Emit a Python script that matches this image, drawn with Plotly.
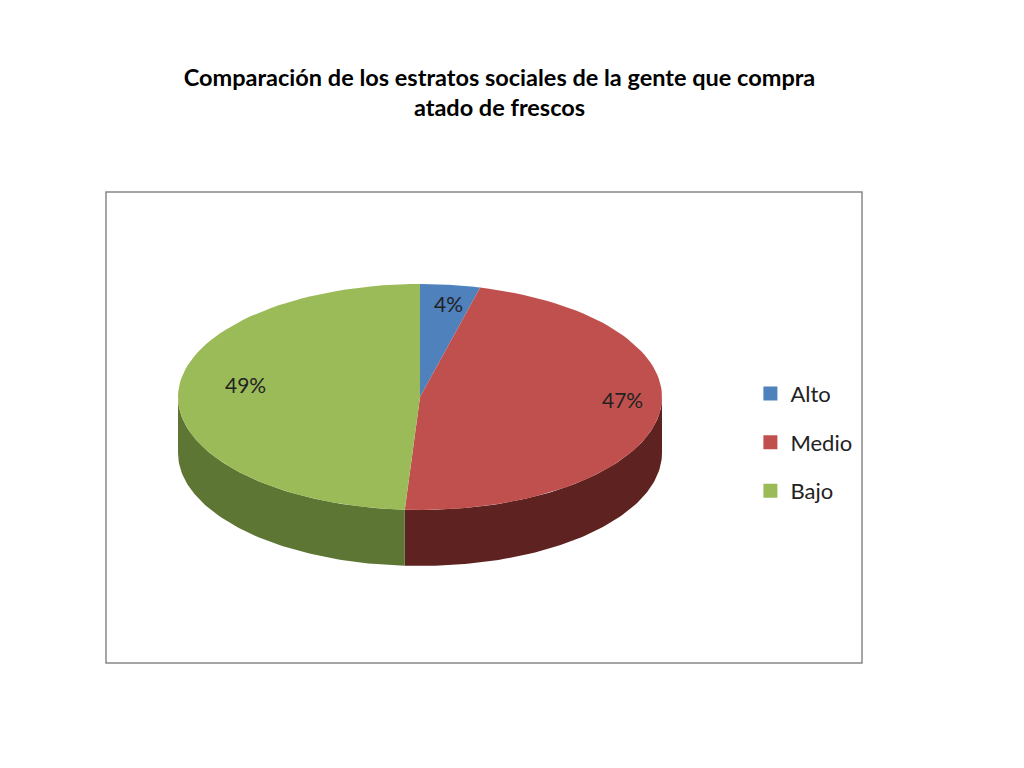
import numpy as np
import plotly.graph_objects as go

labels = ["Alto", "Medio", "Bajo"]
values = [4, 47, 49]
colors = ["#4F81BD", "#C0504D", "#9BBB59"]
side_colors = ["#2f4d72", "#5e2321", "#5d7634"]

# ellipse geometry in page pixels
cx, cy, rx, ry, depth = 420, 397, 242, 113, 56

def arc(t0, t1, dy=0):
    t = np.radians(np.linspace(t0, t1, 80))
    return cx + rx * np.cos(t), cy + dy + ry * np.sin(t)

fig = go.Figure()
total = sum(values)
start = -90.0
angles = []
for v in values:
    end = start + 360.0 * v / total
    angles.append((start, end))
    start = end

# side walls (front half only)
for (a0, a1), sc in zip(angles, side_colors):
    for off in (0, 360, -360):
        s0, s1 = max(a0 + off, 0), min(a1 + off, 180)
        if s1 > s0:
            xt, yt = arc(s0, s1)
            xb, yb = arc(s1, s0, depth)
            fig.add_trace(go.Scatter(x=np.r_[xt, xb], y=np.r_[yt, yb], fill="toself",
                                     fillcolor=sc, line=dict(width=0), mode="lines",
                                     showlegend=False, hoverinfo="skip"))

# top faces
for (a0, a1), lab, c, v in zip(angles, labels, colors, values):
    xa, ya = arc(a0, a1)
    fig.add_trace(go.Scatter(x=np.r_[cx, xa, cx], y=np.r_[cy, ya, cy], fill="toself",
                             fillcolor=c, line=dict(width=0), mode="lines", showlegend=False))
    m = np.radians((a0 + a1) / 2)
    k = 0.72 if v > 10 else 0.95
    fig.add_annotation(x=cx + rx * k * np.cos(m) + (30 if v > 10 and np.cos(m) > 0 else 0),
                       y=cy + ry * k * np.sin(m) - (10 if v > 10 else 12) + (0 if v > 10 else 25),
                       text=f"{v}%", showarrow=False, font=dict(size=21, color="#222"))

# legend entries
for lab, c in zip(labels, colors):
    fig.add_trace(go.Scatter(x=[None], y=[None], mode="markers", name=lab, legendgroup=lab,
                             marker=dict(symbol="square", size=14, color=c)))

fig.add_shape(type="rect", x0=106, y0=192, x1=862, y1=663, line=dict(color="#888", width=1.5))

fig.update_layout(
    width=1024, height=768, margin=dict(l=0, r=0, t=0, b=0),
    plot_bgcolor="white", paper_bgcolor="white",
    font=dict(family="Lato, Open Sans, sans-serif"),
    xaxis=dict(range=[8, 1032], visible=False),
    yaxis=dict(range=[776, 8], visible=False),
    title=dict(text="<b>Comparación de los estratos sociales de la gente que compra<br>atado de frescos</b>",
               x=0.48, xanchor="center", y=0.899, yanchor="middle", font=dict(size=23.5, color="black")),
    legend=dict(x=0.725, y=0.525, xanchor="left", yanchor="top", font=dict(size=22, color="#222"),
                tracegroupgap=17, itemwidth=30),
)
fig.write_html("out.html")
